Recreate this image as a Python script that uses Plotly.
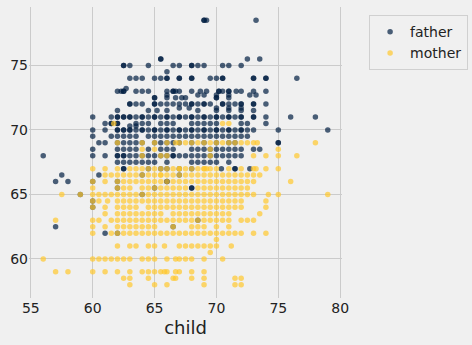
import plotly.graph_objects as go

# Father heights (rows) and the child heights observed at each row
father_heights = [78.5, 75.5, 75.0, 74.5, 74.0, 73.2, 73.0, 72.7, 72.5, 72.0, 71.7, 71.5,
                  71.0, 70.5, 70.3, 70.0, 69.5, 69.0, 68.5, 68.0, 67.5, 67.0, 66.5, 66.0,
                  65.5, 65.0, 64.5, 64.0, 63.0, 62.5, 62.0]
father_children = [
    [73.2, 69.2, 69.0, 69.0],
    [65.5, 65.5, 72.5, 73.5],
    [62.5, 62.5, 63.0, 64.5, 66.5, 67.0, 68.0, 68.0, 68.5, 69.0, 70.5, 71.0, 72.0],
    [66.0],
    [63.0, 63.5, 64.0, 65.0, 65.5, 66.0, 66.0, 67.0, 67.0, 68.0, 68.0, 69.5, 70.0, 70.5, 70.5, 73.0, 73.0, 74.0, 74.0, 76.5],
    [62.7],
    [62.0, 62.3, 62.5, 62.5, 63.5, 64.0, 64.5, 66.0, 66.5, 66.5, 66.7, 67.0, 68.0, 68.7, 69.2, 70.2, 70.2, 70.5, 71.0, 71.0, 71.6, 72.0, 73.0, 74.0],
    [66.0, 68.5, 69.0, 70.0, 71.0, 72.7, 73.2],
    [65.0, 65.0, 66.0, 66.7, 67.2, 67.5, 70.0, 70.0, 71.0],
    [63.0, 63.0, 63.5, 64.0, 65.0, 65.0, 65.5, 66.0, 66.5, 67.0, 67.5, 68.0, 68.0, 68.5, 69.0, 69.0, 69.5, 70.5, 70.5, 71.0, 71.5, 72.0, 72.0, 73.0, 73.0, 74.0],
    [67.0, 67.8, 70.0, 71.0, 72.0],
    [62.0, 64.5, 65.2, 66.0, 68.5, 70.0, 71.0, 72.0, 73.0],
    [60.0, 61.5, 62.0, 62.0, 62.5, 62.5, 63.0, 63.0, 63.5, 64.0, 64.0, 64.5, 65.0, 65.0, 65.5, 66.0, 66.0, 66.5, 67.0, 67.0, 67.5, 68.0, 68.0, 68.5, 69.0, 69.0, 69.5, 70.0, 70.0, 70.5, 71.0, 71.0, 71.5, 72.0, 72.0, 73.0, 73.0, 74.0, 76.0, 78.0],
    [61.0, 61.5, 61.5, 62.0, 62.0, 63.5, 64.0, 64.5, 65.5, 66.0, 66.5, 68.0, 68.5, 69.0, 69.5, 70.0, 72.0, 72.5, 74.0],
    [63.0, 63.5],
    [60.0, 61.0, 62.0, 62.0, 62.5, 62.5, 63.0, 63.0, 63.5, 64.0, 64.0, 64.5, 65.0, 65.0, 65.5, 66.0, 66.0, 66.5, 67.0, 67.0, 67.5, 68.0, 68.0, 68.5, 69.0, 69.0, 69.5, 70.0, 70.0, 70.5, 71.0, 71.0, 71.5, 72.0, 72.0, 72.5, 73.0, 75.0, 79.0],
    [60.0, 61.5, 62.0, 62.5, 63.0, 63.5, 64.5, 65.0, 65.5, 66.0, 66.5, 67.0, 67.5, 68.0, 68.5, 69.0, 69.5, 70.0, 70.5, 71.0, 71.5, 72.0, 72.5],
    [60.5, 61.0, 62.0, 62.5, 63.0, 63.5, 64.0, 65.0, 65.5, 66.0, 66.5, 67.0, 68.0, 69.0, 70.0, 71.0, 71.5, 75.0, 75.0],
    [60.0, 62.0, 62.5, 63.0, 63.5, 64.5, 65.5, 66.0, 66.5, 68.0, 68.5, 69.0, 69.5, 70.0, 70.5, 71.0, 71.5, 72.0, 73.0, 73.5],
    [56.0, 60.0, 61.0, 62.0, 62.0, 62.5, 62.5, 63.0, 63.5, 64.0, 64.5, 65.0, 65.5, 66.0, 66.5, 66.5, 67.0, 67.5, 68.0, 68.5, 69.0, 69.5, 70.0, 70.5, 71.0, 71.5, 72.0],
    [62.0, 62.5, 63.0, 63.5, 64.0, 64.5, 65.0, 66.0, 68.0, 68.5, 69.0, 69.5, 70.0, 71.0],
    [62.5, 62.5, 64.5, 65.5, 66.0, 67.0, 68.0, 70.4, 71.5, 71.5, 72.7],
    [57.5, 60.5, 64.0, 67.0],
    [57.0, 58.0, 60.0, 62.0, 66.0, 66.0],
    [62.0, 65.0, 68.0, 68.0],
    [59.0, 64.0],
    [60.0],
    [60.0],
    [68.5],
    [57.0, 66.5],
    [61.0, 62.0],
]

# Mother heights (rows) and the child heights observed at each row
mother_heights = [70.5, 69.0, 68.5, 68.0, 67.0, 66.5, 66.0, 65.5, 65.0, 64.5, 64.0, 63.5,
                  63.0, 62.5, 62.0, 61.5, 61.0, 60.5, 60.0, 59.0, 58.5, 58.0]
mother_children = [
    [61.7, 70.5, 71.0],
    [62.0, 64.0, 65.0, 66.0, 66.7, 67.0, 67.5, 68.0, 68.5, 69.0, 69.5, 70.0, 70.5, 71.0, 71.5, 72.0, 72.5, 73.0, 73.3, 78.0],
    [64.0, 65.0, 69.5, 75.0],
    [64.0, 65.5, 66.0, 69.5, 73.0, 74.0, 75.0, 76.5],
    [60.0, 61.0, 62.0, 63.0, 63.5, 64.0, 64.5, 65.0, 65.5, 66.0, 66.5, 67.0, 67.0, 67.5, 68.0, 68.5, 69.0, 69.0, 69.2, 69.5, 70.0, 71.0, 72.0, 73.0, 73.2, 74.0, 75.0],
    [61.0, 61.5, 62.0, 62.5, 63.0, 63.5, 64.0, 64.5, 65.0, 65.5, 65.5, 66.0, 66.5, 67.0, 67.5, 68.0, 68.5, 69.0, 69.5, 70.0, 70.5, 71.0, 71.5, 72.0, 72.5, 73.0, 73.5],
    [60.0, 61.0, 62.0, 62.5, 63.0, 63.5, 64.0, 64.5, 65.0, 65.5, 66.0, 66.5, 67.0, 67.5, 68.0, 68.5, 69.0, 69.5, 70.0, 70.5, 71.0, 71.5, 72.0, 72.5, 73.0, 76.0],
    [60.0, 62.0, 62.5, 63.0, 64.0, 64.5, 65.0, 65.5, 66.0, 66.5, 67.0, 67.5, 68.5, 69.0, 69.5, 70.0, 70.5, 71.0, 71.5, 72.0, 72.5],
    [57.5, 59.0, 60.0, 60.5, 61.0, 61.5, 62.0, 62.5, 63.0, 63.5, 64.0, 64.5, 65.0, 65.5, 66.0, 66.5, 67.0, 67.5, 68.0, 68.5, 69.0, 69.5, 70.0, 70.5, 71.0, 71.5, 72.0, 72.5, 73.0, 74.2, 75.0, 79.0],
    [60.0, 60.5, 61.2, 62.0, 62.5, 63.0, 63.5, 64.0, 64.5, 65.0, 65.5, 66.0, 66.5, 67.0, 67.5, 68.0, 68.5, 69.0, 69.5, 70.0, 70.5, 71.0, 71.5, 72.0, 74.0],
    [60.0, 61.0, 62.0, 62.5, 63.0, 63.5, 64.5, 65.0, 65.5, 66.0, 66.5, 67.0, 67.5, 68.0, 68.5, 69.0, 69.5, 70.0, 70.5, 71.0, 71.5, 72.0, 74.0],
    [61.0, 62.0, 62.5, 63.0, 63.5, 64.0, 64.5, 65.0, 65.5, 66.5, 67.0, 67.5, 68.0, 68.5, 69.0, 69.5, 70.0, 70.5, 71.0, 73.5],
    [57.0, 60.0, 60.5, 61.5, 62.0, 62.5, 63.0, 63.5, 64.0, 64.5, 65.0, 65.5, 66.0, 66.5, 67.0, 67.5, 68.0, 68.5, 69.0, 69.5, 70.0, 70.5, 71.0, 72.0, 72.5, 73.0],
    [60.0, 61.0, 62.0, 62.5, 63.0, 63.5, 64.0, 64.5, 65.0, 66.5, 68.0, 68.5, 69.0, 70.0, 71.0],
    [60.0, 61.5, 62.0, 62.5, 63.0, 63.5, 64.0, 64.5, 65.0, 65.5, 66.0, 66.5, 67.0, 67.5, 68.0, 68.5, 69.0, 69.5, 70.0, 70.5, 71.0, 71.5, 72.0, 73.0, 74.0],
    [70.0],
    [62.0, 63.0, 63.5, 64.5, 65.0, 65.8, 67.0, 67.5, 68.0, 68.5, 69.0, 69.5, 70.0, 71.2],
    [69.5],
    [56.0, 60.0, 60.5, 61.0, 61.5, 62.0, 62.5, 63.0, 64.0, 64.5, 65.0, 66.0, 66.7, 67.0, 67.5, 68.0, 69.0, 70.5],
    [57.0, 58.0, 60.0, 61.0, 62.0, 63.0, 64.0, 64.5, 65.0, 65.5, 65.8, 66.0, 66.7, 67.0, 68.0, 69.0],
    [62.5, 63.0, 64.5, 66.5, 66.7, 68.0, 69.0, 71.5, 72.0],
    [63.0, 65.0, 66.0, 69.0, 71.5, 72.0],
]

x_ticks = [55, 60, 65, 70, 75, 80]
y_ticks = [60, 65, 70, 75]


def flatten(heights, children):
    xs, ys = [], []
    for h, kids in zip(heights, children):
        for c in kids:
            xs.append(c)
            ys.append(h)
    return xs, ys


fx, fy = flatten(father_heights, father_children)
mx, my = flatten(mother_heights, mother_children)

fig = go.Figure()
fig.add_trace(go.Scatter(x=fx, y=fy, mode="markers", name="father",
                         marker=dict(size=5.5, color="rgba(0,30,66,0.7)", line=dict(width=0))))
fig.add_trace(go.Scatter(x=mx, y=my, mode="markers", name="mother",
                         marker=dict(size=5.5, color="rgba(255,200,44,0.7)", line=dict(width=0))))

axis_common = dict(showgrid=True, gridcolor="#cbcbcb", gridwidth=1, zeroline=False,
                   showline=False, ticks="", tickfont=dict(size=14, color="#222222"))

fig.update_layout(
    width=472, height=345,
    margin=dict(l=29, r=130, t=7, b=47, autoexpand=False),
    paper_bgcolor="#f0f0f0", plot_bgcolor="#f0f0f0",
    font=dict(family="DejaVu Sans", color="#222222"),
    xaxis=dict(range=[54.85, 80.15], tickvals=x_ticks,
               title=dict(text="child", font=dict(size=18), standoff=6), **axis_common),
    yaxis=dict(range=[56.975, 79.525], tickvals=y_ticks, **axis_common),
    legend=dict(xref="container", yref="container", x=0.782, y=0.956,
                xanchor="left", yanchor="top",
                bordercolor="#d0d0d0", borderwidth=1, bgcolor="#f0f0f0",
                font=dict(size=14, color="#222222")),
    showlegend=True,
)

fig.write_html("out.html")
